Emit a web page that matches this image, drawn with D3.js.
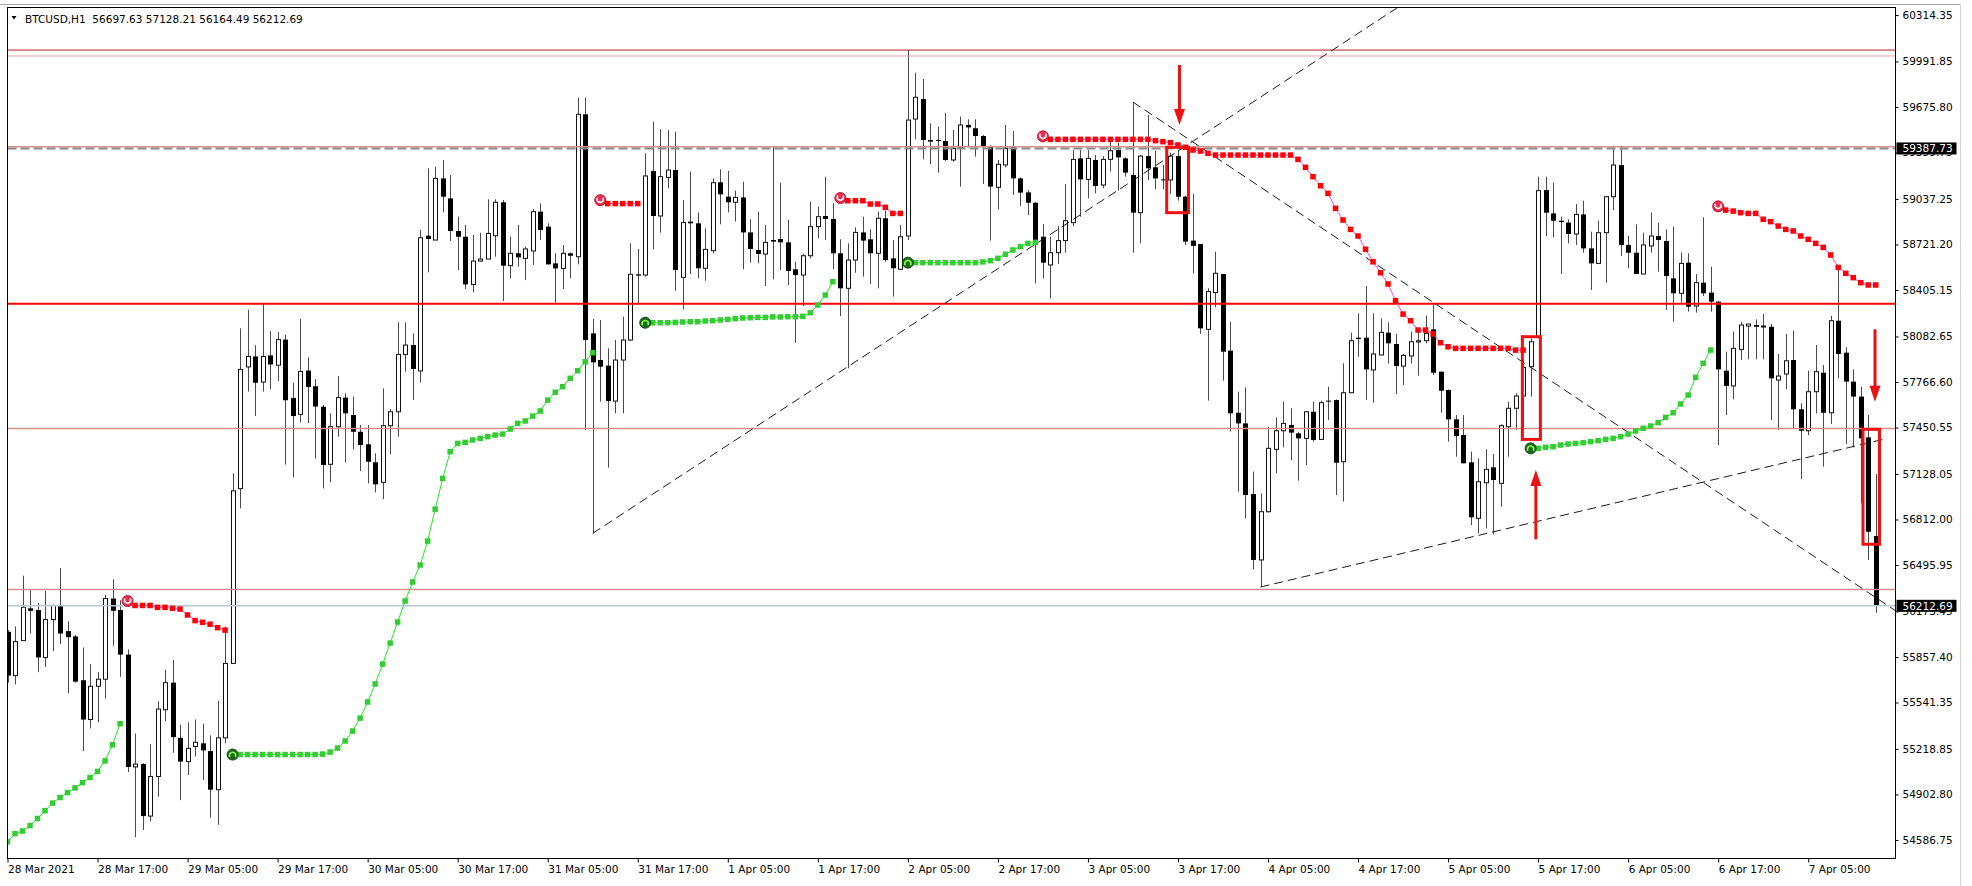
<!DOCTYPE html>
<html>
<head>
<meta charset="utf-8">
<script src="https://cdn.jsdelivr.net/npm/d3@7"></script>
<style>
  body { margin: 0; background: #fff; }
  svg { display: block; }
  text { font-family: "DejaVu Sans", sans-serif; font-size: 10.5px; }
</style>
</head>
<body>
<svg id="chart"></svg>
<script>
// BTCUSD H1 candles, 28 Mar 2021 05:00 .. 7 Apr 2021 14:00 (one bar per hour)
const opens = [
  56032,55728,55971,56195,56183,55854,56117,56215,56037,56000,
  55696,55423,55654,55703,56263,56183,55874,55094,55114,54753,
  55028,55491,55679,55296,55131,55236,55258,55204,54936,55296,
  55813,57026,57871,57944,57766,57951,57883,58061,57656,57542,
  57846,57737,57595,57195,57456,57658,57537,57421,57334,57209,
  57070,57463,57560,57958,58023,57843,58782,58752,59180,59041,
  58815,58775,58444,58606,58620,58782,59014,58574,58660,58625,
  58676,58949,58845,58590,58555,58660,58636,59625,58104,57919,
  57880,57634,57919,58058,58514,58509,59231,58919,59187,59238,
  58493,58880,58868,58556,58678,59153,59053,59014,59048,58805,
  58683,58655,58752,58759,58736,58549,58509,58643,58845,58919,
  58898,58660,58417,58613,58805,58757,58660,58903,58625,58549,
  58780,59592,59731,59447,59447,59440,59308,59396,59551,59528,
  59474,59405,59118,59273,59396,59180,59083,59011,58775,58579,
  58664,58748,58873,59319,59173,59308,59134,59312,59377,59319,
  59204,58942,59335,59257,59173,59169,59335,59053,58748,58724,
  58132,58387,58516,57984,57553,57479,56989,56531,56866,57299,
  57428,57468,57410,57375,57560,57368,57637,57641,57213,57692,
  58074,58074,57850,57954,58109,58030,57877,57947,58044,58053,
  58132,57838,57711,57507,57398,57209,56820,57067,57174,57063,
  57456,57584,57669,57873,58081,59099,58937,58886,58873,58794,
  58930,58694,58590,58803,59053,59273,58718,58664,58516,58711,
  58780,58745,58486,58382,58595,58294,58456,58387,58324,57845,
  57739,57993,58155,58162,58150,58150,57780,57822,57919,57577,
  57428,57699,57831,57553,58192,57970,57769,57665,57382,56697.63
];
const highs = [
  56044,56069,56422,56324,56232,56317,56222,56475,56105,56010,
  55923,55808,55752,56288,56397,56251,55910,55326,55120,55252,
  55550,55769,55837,55386,55404,55423,55394,55313,55552,56069,
  57133,58139,58268,58022,58309,58119,58114,58095,57761,58205,
  57937,57786,57607,57549,57808,57688,57664,57468,57468,57271,
  57722,57579,58181,58181,58104,58822,59250,59261,59308,59203,
  58914,58856,58787,58803,59035,59035,59030,58775,58856,58706,
  58967,59007,58868,58660,58717,58665,59740,59740,58204,58197,
  58000,58058,58220,58729,58690,59354,59574,59521,59516,59504,
  59030,59227,58944,58833,59180,59243,59231,59095,59157,58896,
  58949,58856,59400,59150,58891,58602,58655,59018,58984,59192,
  59007,58757,58729,58840,58914,58826,58949,58956,58752,58856,
  60071,59914,59870,59562,59539,59636,59516,59609,59590,59590,
  59481,59410,59308,59551,59509,59187,59099,59015,58863,58775,
  58849,59141,59377,59377,59377,59342,59335,59435,59428,59326,
  59710,59342,59620,59372,59273,59359,59377,59058,59072,58724,
  58417,58671,58516,58185,57699,57729,57144,56993,57456,57521,
  57630,57584,57421,57560,57630,57637,57734,57646,57896,58109,
  58243,58433,58243,58208,58181,58100,57961,58116,58116,58227,
  58313,57840,57715,57537,57537,57283,57236,57299,57266,57472,
  57630,57688,57919,58070,59192,59192,59150,58914,58896,59002,
  59025,58810,58886,59058,59405,59405,58780,58861,58803,58942,
  58873,58826,58845,58664,58660,58516,58910,58567,58330,57977,
  58116,58185,58169,58201,58238,58169,57961,58100,58123,57618,
  57845,58023,57884,58225,58562,58007,57854,57734,57537,57128.21
];
const lows = [
  55679,55667,55971,56020,55752,55788,55898,55947,55606,55680,
  55204,55362,55404,55569,55935,55720,55058,54607,54656,54717,
  54887,55411,55192,54863,55038,55167,55004,54741,54692,55258,
  55813,56889,57700,57530,57700,57717,57773,57194,57104,57486,
  57481,57235,57028,57070,57387,57209,57299,57148,57063,57000,
  56954,57264,57387,57838,57641,57762,58528,58752,58944,58745,
  58544,58412,58389,58602,58620,58636,58329,58486,58567,58474,
  58579,58752,58583,58319,58412,58486,58583,57433,56716,57630,
  57172,57549,57549,58051,58312,58498,58687,58803,59111,58400,
  58271,58516,58486,58470,58660,58861,58944,58880,58549,58595,
  58590,58433,58479,58544,58440,58039,58294,58625,58764,58752,
  58549,58225,57861,58525,58498,58447,58417,58602,58359,58544,
  58752,59451,59312,59280,59220,59300,59296,59123,59396,59331,
  59141,58748,58965,59257,59065,58988,58926,58451,58486,58347,
  58586,58664,58849,58914,59042,59076,59111,59227,59095,59192,
  58664,58729,59169,59104,59104,59072,59025,58718,58521,58100,
  57637,58285,57776,57422,57005,56820,56466,56343,56859,57132,
  57313,57225,57081,57190,57352,57364,57503,56982,56936,57692,
  57942,57641,57623,57954,57896,57683,57746,57896,57810,58035,
  57815,57553,57352,57248,57202,56774,56716,56750,56709,56901,
  57248,57433,57433,57665,58070,58780,58771,58516,58729,58718,
  58664,58405,58590,58456,58960,58641,58556,58516,58516,58664,
  58532,58266,58185,58317,58255,58248,58363,58255,57329,57537,
  57646,57919,57924,57924,57924,57503,57433,57715,57445,57091,
  57398,57549,57179,57475,57792,57336,57313,56924,56531,56164.49
];
const closes = [
  55728,55964,56203,56178,55854,56117,56215,56020,55995,55686,
  55423,55654,55703,56263,56178,55874,55094,55114,54753,55028,
  55496,55679,55301,55131,55223,55265,55209,54936,55296,55813,
  57011,57854,57944,57761,57944,57888,58061,57640,57530,57839,
  57732,57596,57190,57456,57658,57549,57421,57329,57213,57056,
  57463,57560,57958,58023,57857,58768,58759,59180,59053,58815,
  58775,58444,58606,58620,58798,59014,58574,58660,58632,58690,
  58949,58822,58583,58555,58660,58643,59625,58058,57903,57873,
  57634,57919,58058,58514,58505,59197,58919,59192,59238,58544,
  58873,58868,58556,58687,59150,59069,59014,59048,58805,58690,
  58655,58736,58741,58736,58537,58509,58643,58845,58914,58898,
  58660,58417,58613,58805,58748,58660,58903,58613,58556,58775,
  59585,59743,59447,59435,59440,59308,59389,59551,59534,59474,
  59405,59123,59278,59389,59180,59081,59011,58752,58595,58664,
  58748,58886,59312,59173,59319,59127,59312,59372,59326,59220,
  58942,59335,59250,59180,59169,59335,59053,58741,58711,58139,
  58394,58521,57977,57549,57479,56982,56531,56866,57306,57428,
  57479,57415,57375,57560,57364,57623,57630,57206,57692,58053,
  58065,57854,57961,58111,58035,57877,57951,58046,58053,58104,
  57831,57706,57507,57391,57202,56827,57074,57160,57086,57463,
  57584,57669,57868,58046,59095,58942,58886,58877,58794,58930,
  58694,58590,58803,59053,59273,58718,58664,58516,58718,58780,
  58752,58502,58382,58590,58289,58456,58382,58324,57854,57739,
  58000,58162,58169,58150,58155,57792,57808,57914,57577,57428,
  57699,57838,57553,58192,57961,57769,57665,57375,56727,56212.69
];

// trailing stop indicator, each segment starts at bar "from"
const greenStop = [
  {from: 0, vals: [54574,54631,54649,54687,54736,54790,54843,54882,54916,54948,54985,55021,55063,55136,55248,55394]},
  {from: 30, vals: [55180,55180,55180,55180,55180,55180,55180,55180,55180,55180,55180,55180,
    55183,55197,55225,55274,55343,55433,55545,55670,55808,55954,56100,56246,56378,56496,
    56662,56884,57097,57283,57340,57347,57364,57375,57387,57398,57405,57440,57479,57496,
    57530,57565,57641,57695,57734,57792,57845,57907,57970]},
  {from: 85, vals: [58178,58178,58178,58178,58180,58183,58185,58185,58190,58192,58197,58201,58206,
    58211,58213,58215,58215,58218,58218,58220,58220,58222,58248,58301,58370,58463]},
  {from: 120, vals: [58595,58595,58595,58595,58595,58595,58595,58595,58595,58595,
    58600,58609,58625,58653,58683,58706,58729,58736]},
  {from: 203, vals: [57306,57306,57313,57317,57329,57336,57340,57345,57352,57359,57368,57375,57387,
    57405,57426,57445,57461,57484,57521,57553,57614,57676,57799,57896,57988]}
];
const redStop = [
  {from: 16, vals: [56232,56215,56215,56215,56202,56202,56195,56190,56149,56110,56098,56085,56061,56044]},
  {from: 79, vals: [59015,59005,59005,59005,59005,59005]},
  {from: 111, vals: [59030,59025,59025,59025,59002,59002,58979,58937,58937]},
  {from: 138, vals: [59458,
    59451,59451,59451,59451,59451,59451,59451,59451,59451,59451,59451,59451,59451,59451,
    59442,59435,59428,59412,59396,59377,59370,59354,59342,
    59342,59342,59342,59342,59342,59342,59342,59342,59342,59342,
    59312,59257,59192,59129,59076,58972,58891,58826,58780,58688,58601,58525,58447,58331,
    58238,58192,58127,58127,58100,58039,58011,
    58000,58000,58000,58000,58000,58000,58000,58000,57988,57988]},
  {from: 228, vals: [58972,58960,58953,58942,58937,58937,58896,58880,58849,58826,58815,58780,58757,
    58729,58701,58648,58562,58521,58491,58456,58440,58440]}
];

// horizontal levels and marked prices
const levelPrices = [60071, 60030, 59400, 58310, 57443, 56325];
const dashedLevel = 59387.73;
const bidPrice = 56212.69;

// trend lines: [bar, price] anchors
const trendLines = [
  {a: [78, 56716], b: [156, 59370], ray: true},
  {a: [150, 59710], b: [249, 56270], ray: true},
  {a: [167, 56343], b: [250, 57368], ray: false}
];

// marked boxes (bar range, price range) and arrows (bar, tail price, tip price)
const boxes = [
  {b0: 154.5, b1: 157.4, hi: 59396, lo: 58942},
  {b0: 201.9, b1: 204.3, hi: 58081, lo: 57368},
  {b0: 247.3, b1: 249.5, hi: 57438, lo: 56640}
];
const arrows = [
  {bar: 156.2, from: 59967, to: 59551},
  {bar: 203.7, from: 56674, to: 57155},
  {bar: 248.9, from: 58132, to: 57629}
];

// axis ticks
const priceTicks = [60314.35, 59991.85, 59675.80, 59359.75, 59037.25, 58721.20, 58405.15, 58082.65,
  57766.60, 57450.55, 57128.05, 56812.00, 56495.95, 56173.45, 55857.40, 55541.35, 55218.85, 54902.80, 54586.75];
const timeTickBars = [0, 12, 24, 36, 48, 60, 72, 84, 96, 108, 120, 132, 144, 156, 168, 180, 192, 204, 216, 228, 240];
const timeTickLabels = ["28 Mar 2021", "28 Mar 17:00", "29 Mar 05:00", "29 Mar 17:00", "30 Mar 05:00",
  "30 Mar 17:00", "31 Mar 05:00", "31 Mar 17:00", "1 Apr 05:00", "1 Apr 17:00", "2 Apr 05:00",
  "2 Apr 17:00", "3 Apr 05:00", "3 Apr 17:00", "4 Apr 05:00", "4 Apr 17:00", "5 Apr 05:00",
  "5 Apr 17:00", "6 Apr 05:00", "6 Apr 17:00", "7 Apr 05:00"];

// ---- layout ----
const width = 1972, height = 886;
const frame = {left: 7.5, right: 1895.5, top: 7.5, bottom: 858.5};

const candles = opens.map((o, i) => ({i: i, o: o, h: highs[i], l: lows[i], c: closes[i]}));

const x = d3.scaleLinear().domain([0, 249]).range([7.5, 1875.75]);
const y = d3.scaleLinear().domain([54586.75, 60314.35]).range([840, 15]);

const svg = d3.select('#chart').attr('width', width).attr('height', height);

svg.append('defs').append('clipPath').attr('id', 'plot')
  .append('rect')
  .attr('x', frame.left).attr('y', frame.top)
  .attr('width', frame.right - frame.left).attr('height', frame.bottom - frame.top);

// window edges
svg.append('line').attr('x1', 0).attr('x2', 1960).attr('y1', 4.5).attr('y2', 4.5)
  .attr('stroke', '#a8a8a8');
svg.append('line').attr('x1', 1960.5).attr('x2', 1960.5).attr('y1', 4).attr('y2', height)
  .attr('stroke', '#d4d4d4');

const plot = svg.append('g').attr('clip-path', 'url(#plot)');

// candles
const bar = plot.append('g').selectAll('g').data(candles).join('g');
bar.append('line')
  .attr('x1', d => Math.round(x(d.i)) + 0.5).attr('x2', d => Math.round(x(d.i)) + 0.5)
  .attr('y1', d => y(d.h)).attr('y2', d => y(d.l))
  .attr('stroke', '#4a4a4a').attr('stroke-width', 1);
bar.append('rect')
  .attr('x', d => Math.round(x(d.i)) - (d.c >= d.o ? 1.5 : 2))
  .attr('width', d => d.c >= d.o ? 4 : 5)
  .attr('y', d => y(Math.max(d.o, d.c)))
  .attr('height', d => Math.max(1, Math.abs(y(d.o) - y(d.c))))
  .attr('fill', d => d.c >= d.o ? '#fff' : '#000')
  .attr('stroke', d => d.c >= d.o ? '#111' : 'none')
  .attr('stroke-width', 1);

// horizontal levels
const levelStyles = [
  {color: '#b22222', w: 1}, {color: '#e4a4a4', w: 1}, {color: '#d98e8e', w: 1.5},
  {color: '#ff0000', w: 2}, {color: '#d98e8e', w: 1.5}, {color: '#d98e8e', w: 1.5}
];
plot.append('g').selectAll('line').data(levelPrices).join('line')
  .attr('x1', frame.left).attr('x2', frame.right)
  .attr('y1', d => y(d)).attr('y2', d => y(d))
  .attr('stroke', (d, i) => levelStyles[i].color)
  .attr('stroke-width', (d, i) => levelStyles[i].w);

plot.append('line')
  .attr('x1', frame.left).attr('x2', frame.right)
  .attr('y1', y(dashedLevel)).attr('y2', y(dashedLevel))
  .attr('stroke', '#8a8a8a').attr('stroke-width', 2).attr('stroke-dasharray', '9,4');

plot.append('line')
  .attr('x1', frame.left).attr('x2', frame.right)
  .attr('y1', y(bidPrice)).attr('y2', y(bidPrice))
  .attr('stroke', '#b9c7d6').attr('stroke-width', 1.5);

// trend lines
trendLines.forEach(t => {
  const x1 = x(t.a[0]), y1 = y(t.a[1]);
  let x2 = x(t.b[0]), y2 = y(t.b[1]);
  if (t.ray) {
    const slope = (y2 - y1) / (x2 - x1);
    y2 = y1 + slope * (frame.right - x1);
    x2 = frame.right;
  }
  plot.append('line')
    .attr('x1', x1).attr('y1', y1).attr('x2', x2).attr('y2', y2)
    .attr('stroke', '#1a1a1a').attr('stroke-width', 1).attr('stroke-dasharray', '9,5');
});

// trailing stop lines + squares
function drawStop(segments, lineColor, boxColor, up) {
  const line = d3.line().x(d => x(d.i)).y(d => y(d.v));
  segments.forEach(seg => {
    const pts = seg.vals.map((v, k) => ({i: seg.from + k, v: v}));
    plot.append('path').datum(pts)
      .attr('d', line).attr('fill', 'none')
      .attr('stroke', lineColor).attr('stroke-width', 1);
    const sq = seg.from > 0 ? pts.slice(1) : pts;
    plot.append('g').selectAll('rect').data(sq).join('rect')
      .attr('x', d => x(d.i) - 2.75).attr('y', d => y(d.v) - 2.75)
      .attr('width', 5.5).attr('height', 5.5)
      .attr('fill', boxColor);
    if (seg.from > 0) {
      const p = pts[0];
      const g = plot.append('g').attr('transform', `translate(${x(p.i)},${y(p.v) + (up ? 0 : -2)})`);
      g.append('circle').attr('r', 5.5)
        .attr('fill', up ? '#1d6a1d' : '#e62e50')
        .attr('stroke', up ? '#0f4a0f' : '#c8102e').attr('stroke-width', 1);
      g.append('path')
        .attr('d', up ? 'M-3,2.5 L-3,-0.5 Q0,-4 3,-0.5 L3,2.5' : 'M-3,-2.5 L-3,0.5 Q0,4 3,0.5 L3,-2.5')
        .attr('fill', 'none')
        .attr('stroke', up ? '#8dff4a' : '#fff').attr('stroke-width', 1.6);
    }
  });
}
drawStop(greenStop, '#19f019', '#33cc33', true);
drawStop(redStop, '#ff44ff', '#ff0000', false);

// boxes
plot.append('g').selectAll('rect').data(boxes).join('rect')
  .attr('x', d => x(d.b0)).attr('y', d => y(d.hi))
  .attr('width', d => x(d.b1) - x(d.b0)).attr('height', d => y(d.lo) - y(d.hi))
  .attr('fill', 'none').attr('stroke', '#ee1111').attr('stroke-width', 3);

// arrows
arrows.forEach(a => {
  const ax = x(a.bar), y0 = y(a.from), y1 = y(a.to);
  const dir = y1 > y0 ? 1 : -1;
  const headLen = 16, headHalf = 5.5;
  plot.append('line')
    .attr('x1', ax).attr('x2', ax).attr('y1', y0).attr('y2', y1 - dir * headLen + dir * 2)
    .attr('stroke', '#ee1111').attr('stroke-width', 3);
  plot.append('path')
    .attr('d', `M${ax - headHalf},${y1 - dir * headLen} L${ax + headHalf},${y1 - dir * headLen} L${ax},${y1} Z`)
    .attr('fill', '#ee1111');
});

// frame
svg.append('rect')
  .attr('x', frame.left).attr('y', frame.top)
  .attr('width', frame.right - frame.left).attr('height', frame.bottom - frame.top)
  .attr('fill', 'none').attr('stroke', '#000').attr('stroke-width', 1);

// price axis
const yAxis = svg.append('g')
  .attr('transform', `translate(${frame.right},0)`)
  .call(d3.axisRight(y).tickValues(priceTicks).tickSize(3).tickPadding(4).tickFormat(d => d.toFixed(2)));
yAxis.select('.domain').remove();
yAxis.selectAll('text').attr('font-family', '"DejaVu Sans", sans-serif').attr('font-size', 10.5).attr('fill', '#000');
yAxis.selectAll('line').attr('stroke', '#000');

// time axis
const xAxis = svg.append('g')
  .attr('transform', `translate(0,${frame.bottom})`)
  .call(d3.axisBottom(x).tickValues(timeTickBars).tickSize(4).tickPadding(3)
    .tickFormat((d, i) => timeTickLabels[i]));
xAxis.select('.domain').remove();
xAxis.selectAll('text').attr('text-anchor', 'start').attr('x', 0)
  .attr('font-family', '"DejaVu Sans", sans-serif').attr('font-size', 10.5).attr('fill', '#000');
xAxis.selectAll('line').attr('stroke', '#000');

// price marker boxes on the right
[dashedLevel, bidPrice].forEach(p => {
  svg.append('rect')
    .attr('x', frame.right + 1).attr('y', y(p) - 6)
    .attr('width', 60).attr('height', 12).attr('fill', '#000');
  svg.append('text')
    .attr('x', frame.right + 7).attr('y', y(p)).attr('dy', '0.36em')
    .attr('fill', '#fff').text(p.toFixed(2));
});

// header
svg.append('path').attr('d', 'M11.5,16 L16.5,16 L14,19.5 Z').attr('fill', '#000');
svg.append('text').attr('x', 25).attr('y', 22.5).attr('fill', '#000')
  .style('white-space', 'pre')
  .text('BTCUSD,H1  ' + [opens[249], highs[249], lows[249], closes[249]].map(v => v.toFixed(2)).join(' '));
</script>
</body>
</html>
